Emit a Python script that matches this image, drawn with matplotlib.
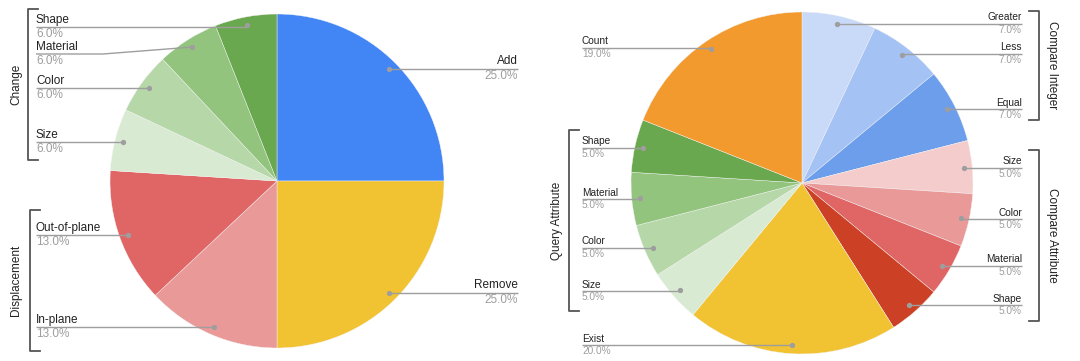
import numpy as np
import matplotlib.pyplot as plt

plt.rcParams['font.family'] = ['Liberation Sans', 'DejaVu Sans']

W, H = 1080, 361

# left chart data
left_labels = ["Add", "Remove", "In-plane", "Out-of-plane", "Size", "Color", "Material", "Shape"]
left_values = [25, 25, 13, 13, 6, 6, 6, 6]
left_colors = ["#4285F4", "#F1C232", "#EA9999", "#E06666",
               "#D9EAD3", "#B6D7A8", "#93C47D", "#6AA84F"]

# right chart data
right_labels = ["Greater", "Less", "Equal", "Size", "Color", "Material", "Shape",
                "Exist", "Size", "Color", "Material", "Shape", "Count"]
right_values = [7, 7, 7, 5, 5, 5, 5, 20, 5, 5, 5, 5, 19]
right_colors = ["#C9DAF8", "#A4C2F4", "#6D9EEB", "#F4CCCC", "#EA9999", "#E06666", "#CC4125",
                "#F1C232", "#D9EAD3", "#B6D7A8", "#93C47D", "#6AA84F", "#F29A2E"]

# label layout: (x, line y in px from top, side, elbow x)
left_layout = [(518, 69, 'r', None), (518, 293, 'r', None), (36, 327, 'l', None),
               (36, 235, 'l', None), (36, 142, 'l', None), (36, 88, 'l', None),
               (36, 54, 'l', 103), (36, 27, 'l', None)]
right_layout = [(1022, 24, 'r', None), (1022, 54, 'r', None), (1022, 109, 'r', None),
                (1022, 168, 'r', None), (1022, 219, 'r', None), (1022, 266, 'r', None),
                (1022, 305, 'r', None), (582, 345, 'l', None), (582, 291, 'l', None),
                (582, 248, 'l', None), (582, 199, 'l', None), (582, 148, 'l', None),
                (582, 48, 'l', None)]

# brackets: (x, top, bottom, tick direction, label, label x)
brackets = [(28, 9, 160, 1, "Change", 16),
            (30, 210, 351, 1, "Displacement", 16),
            (569, 130, 311, 1, "Query Attribute", 557),
            (1039, 11, 120, -1, "Compare Integer", 1052),
            (1039, 150, 321, -1, "Compare Attribute", 1052)]

fig = plt.figure(figsize=(W / 100, H / 100), dpi=100)
ax = fig.add_axes([0, 0, 1, 1])


def draw_pie(values, labels, colors, layout, cx, cy, r, fs):
    wedges, _ = ax.pie(values, colors=colors, startangle=90, counterclock=False,
                       center=(cx, H - cy), radius=r,
                       wedgeprops=dict(linewidth=0.3, edgecolor="#F5F5F5"))
    total = sum(values)
    for w, lab, v, (x, ly, side, ex) in zip(wedges, labels, values, layout):
        ang = np.deg2rad((w.theta1 + w.theta2) / 2)
        px = cx + 0.95 * r * np.cos(ang)
        py = H - cy + 0.95 * r * np.sin(ang)
        yl = H - ly
        if ex is None:
            ex = px
        ax.plot([x, ex, px], [yl, yl, py], color="#9E9E9E", lw=1.0, solid_capstyle="butt")
        ax.plot(px, py, "o", color="#9E9E9E", ms=2.8)
        ha = "left" if side == 'l' else "right"
        ax.text(x, yl + 1.5, lab, ha=ha, va="bottom", fontsize=fs, color="#222222")
        ax.text(x, yl - 1.0, f"{100 * v / total:.1f}%", ha=ha, va="top",
                fontsize=fs, color="#9E9E9E")


draw_pie(left_values, left_labels, left_colors, left_layout, 277, 181, 167, 8.5)
draw_pie(right_values, right_labels, right_colors, right_layout, 802, 183, 171, 7.3)

for x, top, bot, d, lab, lx in brackets:
    ax.plot([x + 10 * d, x, x, x + 10 * d], [H - top, H - top, H - bot, H - bot],
            color="#555555", lw=1.3)
    rot = 90 if d > 0 else -90
    ax.text(lx, H - (top + bot) / 2, lab, rotation=rot, ha="center", va="center",
            fontsize=8.5, color="#222222")

ax.set_xlim(0, W)
ax.set_ylim(0, H)
ax.set_aspect("equal")
ax.axis("off")

fig.savefig("out.png", dpi=100)
